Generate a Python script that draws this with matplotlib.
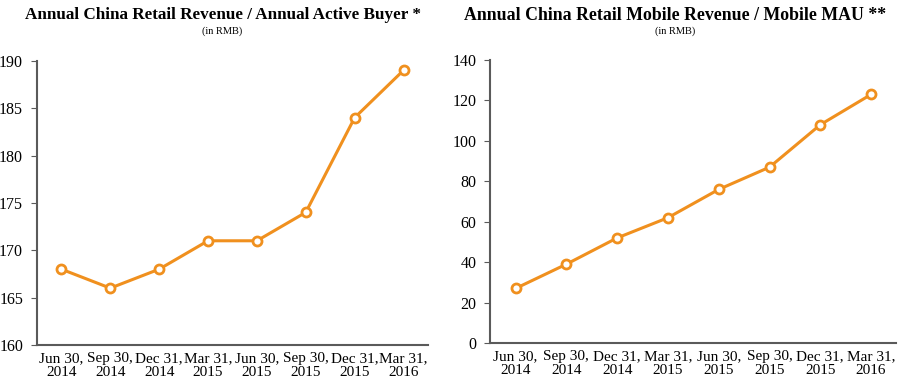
import matplotlib
matplotlib.use("Agg")
import matplotlib.pyplot as plt

categories = ["Jun 30,\n2014", "Sep 30,\n2014", "Dec 31,\n2014", "Mar 31,\n2015",
              "Jun 30,\n2015", "Sep 30,\n2015", "Dec 31,\n2015", "Mar 31,\n2016"]
rev_per_buyer = [168, 166, 168, 171, 171, 174, 184, 189]
mobile_rev_per_mau = [27, 39, 52, 62, 76, 87, 108, 123]

plt.rcParams['font.family'] = ['Liberation Serif', 'DejaVu Serif']
orange = '#F0901E'
spine_c = '#5a5a5a'

fig = plt.figure(figsize=(9.01, 3.85), dpi=100)
ax1 = fig.add_axes([0.041, 0.104, 0.434, 0.738])
ax2 = fig.add_axes([0.544, 0.109, 0.451, 0.735])

def style(ax, data, ylim, yticks):
    x = list(range(len(categories)))
    ax.plot(x, data, color=orange, lw=2.2, marker='o', ms=6.5,
            mfc='white', mec=orange, mew=2, zorder=3)
    ax.set_xlim(-0.5, len(categories) - 0.5)
    ax.set_ylim(*ylim)
    ax.set_yticks(yticks)
    ax.set_xticks(x)
    ax.set_xticklabels(categories, fontsize=11, linespacing=1.15)
    ax.tick_params(axis='x', length=0, pad=5)
    ax.tick_params(axis='y', length=4, color=spine_c, labelsize=11.5, pad=6)
    for s in ['top', 'right']:
        ax.spines[s].set_visible(False)
    for s in ['left', 'bottom']:
        ax.spines[s].set_color(spine_c)
        ax.spines[s].set_linewidth(1.5)

style(ax1, rev_per_buyer, (160, 190), [160, 165, 170, 175, 180, 185, 190])
style(ax2, mobile_rev_per_mau, (0, 140), [0, 20, 40, 60, 80, 100, 120, 140])

fig.text(0.247, 0.96, "Annual China Retail Revenue / Annual Active Buyer *",
         ha='center', va='center', fontsize=12.3, fontweight='bold')
fig.text(0.247, 0.92, "(in RMB)", ha='center', va='center', fontsize=7.5)
fig.text(0.749, 0.96, "Annual China Retail Mobile Revenue / Mobile MAU **",
         ha='center', va='center', fontsize=12.8, fontweight='bold')
fig.text(0.749, 0.92, "(in RMB)", ha='center', va='center', fontsize=7.5)

fig.savefig("out.png", dpi=100)
